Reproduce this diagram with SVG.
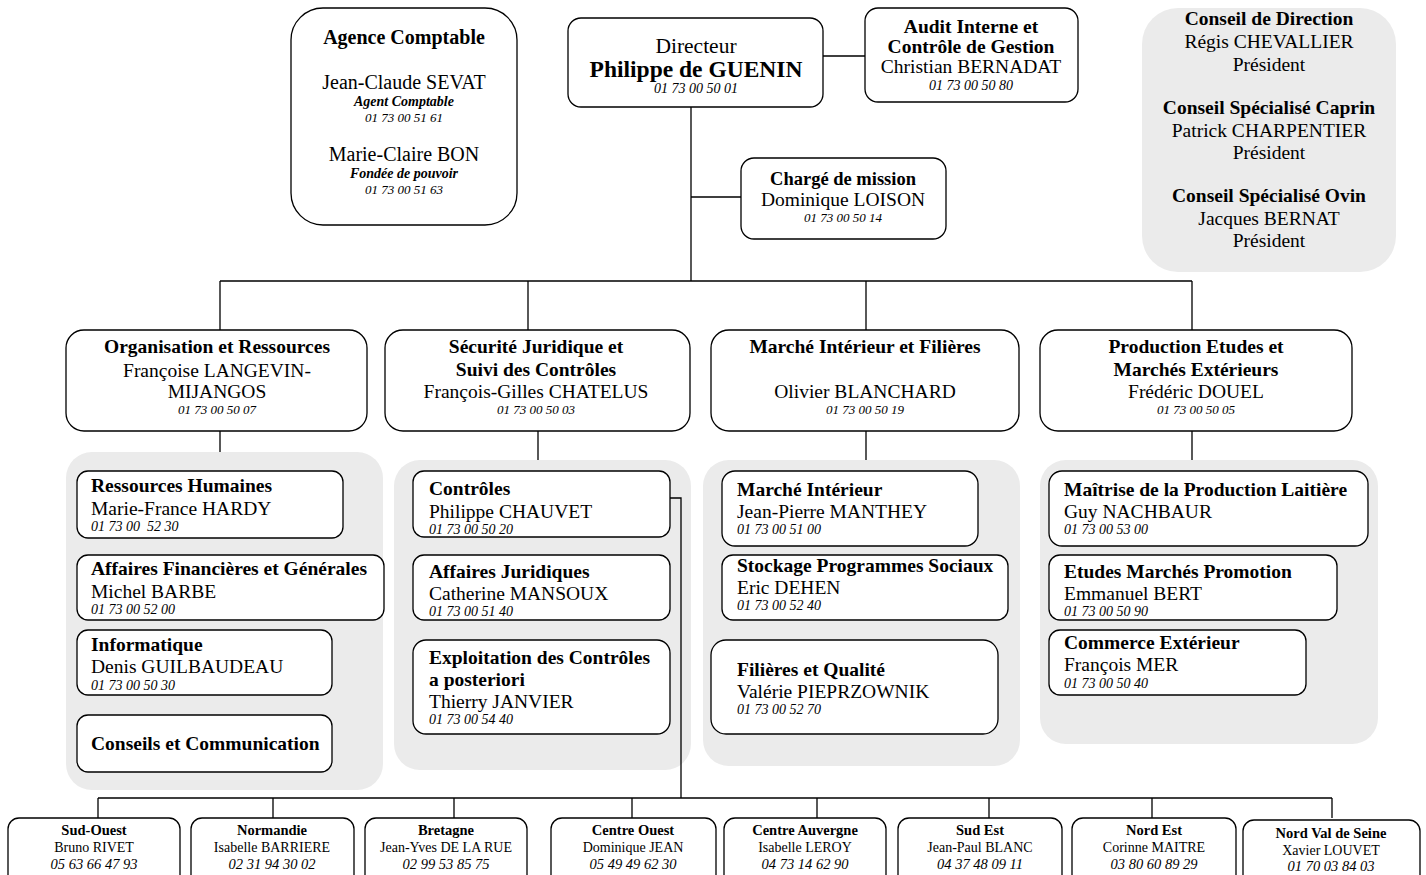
<svg xmlns="http://www.w3.org/2000/svg" width="1426" height="875" viewBox="0 0 1426 875">
<style>
text{font-family:"Liberation Serif","Times New Roman",serif;fill:#000}
.c{text-anchor:middle}
.b{font-weight:bold}
.t{font-size:19.5px}
.n{font-size:19.5px}
.p{font-size:13px;font-style:italic}
.sp{font-size:14px;font-style:italic}
.bi{font-size:14px;font-weight:bold;font-style:italic}
.box{fill:#fff;stroke:#000;stroke-width:1.3}
.grp{fill:#ebebeb;stroke:none}
.ln{stroke:#000;stroke-width:1.3;fill:none}
.bt{font-size:14.5px;font-weight:bold}
.bn{font-size:14px}
.bp{font-size:14.5px;font-style:italic}
</style>
<rect width="1426" height="875" fill="#fff"/>
<g id="panels">
<rect class="grp" x="66" y="452" width="317" height="338" rx="26"/>
<rect class="grp" x="394" y="460" width="297" height="310" rx="26"/>
<rect class="grp" x="703" y="460" width="317" height="306" rx="26"/>
<rect class="grp" x="1040" y="460" width="338" height="284" rx="26"/>
</g>
<g id="connectors">
<path class="ln" d="M691 107V281M691 197H741M823 56H865M220 281H1192M220 281V330M528 281V330M866 281V330M1192 281V330M220 431V452M538 430V460M866 430V460M1192 430V460M670 498H681V798M98 798H1332M98 798V818M273 798V818M454 798V818M632 798V818M817 798V818M989 798V818M1152 798V818M1332 798V818"/>
</g>
<g id="agence">
<rect class="box" x="291" y="8" width="226" height="217" rx="32"/>
<text class="c b" x="404" y="44" font-size="20">Agence Comptable</text>
<text class="c" x="404" y="89" font-size="20">Jean-Claude SEVAT</text>
<text class="c bi" x="404" y="106">Agent Comptable</text>
<text class="c" x="404" y="122" font-size="13" font-style="italic">01 73 00 51 61</text>
<text class="c" x="404" y="161" font-size="20">Marie-Claire BON</text>
<text class="c bi" x="404" y="178">Fondée de pouvoir</text>
<text class="c" x="404" y="194" font-size="13" font-style="italic">01 73 00 51 63</text>
</g>
<g id="directeur">
<rect class="box" x="568" y="18" width="255" height="89" rx="13"/>
<text class="c" x="696" y="53" font-size="21.5">Directeur</text>
<text class="c b" x="696" y="77" font-size="23.5">Philippe de GUENIN</text>
<text class="c sp" x="696" y="93">01 73 00 50 01</text>
</g>
<g id="audit">
<rect class="box" x="865" y="8" width="213" height="94" rx="13"/>
<text class="c b t" x="971" y="33">Audit Interne et</text>
<text class="c b t" x="971" y="53">Contrôle de Gestion</text>
<text class="c n" x="971" y="73">Christian BERNADAT</text>
<text class="c sp" x="971" y="90">01 73 00 50 80</text>
</g>
<g id="conseil">
<rect class="grp" x="1142" y="8" width="254" height="264" rx="36"/>
<text class="c b t" x="1269" y="25">Conseil de Direction</text>
<text class="c n" x="1269" y="48">Régis CHEVALLIER</text>
<text class="c n" x="1269" y="71">Président</text>
<text class="c b t" x="1269" y="114">Conseil Spécialisé Caprin</text>
<text class="c n" x="1269" y="137">Patrick CHARPENTIER</text>
<text class="c n" x="1269" y="159">Président</text>
<text class="c b t" x="1269" y="202">Conseil Spécialisé Ovin</text>
<text class="c n" x="1269" y="225">Jacques BERNAT</text>
<text class="c n" x="1269" y="247">Président</text>
</g>
<g id="charge">
<rect class="box" x="741" y="158" width="205" height="81" rx="13"/>
<text class="c b" x="843" y="185" font-size="18.5">Chargé de mission</text>
<text class="c n" x="843" y="206">Dominique LOISON</text>
<text class="c p" x="843" y="222">01 73 00 50 14</text>
</g>
<g id="dept-org">
<rect class="box" x="66" y="330" width="301" height="101" rx="18"/>
<text class="c b t" x="217" y="353">Organisation et Ressources</text>
<text class="c n" x="217" y="377">Françoise LANGEVIN-</text>
<text class="c n" x="217" y="398">MIJANGOS</text>
<text class="c p" x="217" y="414">01 73 00 50 07</text>
</g>
<g id="dept-sec">
<rect class="box" x="385" y="330" width="305" height="101" rx="18"/>
<text class="c b t" x="536" y="353">Sécurité Juridique et</text>
<text class="c b t" x="536" y="376">Suivi des Contrôles</text>
<text class="c n" x="536" y="398">François-Gilles CHATELUS</text>
<text class="c p" x="536" y="414">01 73 00 50 03</text>
</g>
<g id="dept-marche">
<rect class="box" x="711" y="330" width="308" height="101" rx="18"/>
<text class="c b t" x="865" y="353">Marché Intérieur et Filières</text>
<text class="c n" x="865" y="398">Olivier BLANCHARD</text>
<text class="c p" x="865" y="414">01 73 00 50 19</text>
</g>
<g id="dept-prod">
<rect class="box" x="1040" y="330" width="312" height="101" rx="18"/>
<text class="c b t" x="1196" y="353">Production Etudes et</text>
<text class="c b t" x="1196" y="376">Marchés Extérieurs</text>
<text class="c n" x="1196" y="398">Frédéric DOUEL</text>
<text class="c p" x="1196" y="414">01 73 00 50 05</text>
</g>
<g id="rh">
<rect class="box" x="77" y="471" width="266" height="67" rx="11"/>
<text class="b t" x="91" y="492">Ressources Humaines</text>
<text class="n" x="91" y="515">Marie-France HARDY</text>
<text class="sp" x="91" y="531">01 73 00&#160; 52 30</text>
</g>
<g id="afg">
<rect class="box" x="77" y="555" width="307" height="65" rx="11"/>
<text class="b t" x="91" y="575">Affaires Financières et Générales</text>
<text class="n" x="91" y="598">Michel BARBE</text>
<text class="sp" x="91" y="614">01 73 00 52 00</text>
</g>
<g id="info">
<rect class="box" x="77" y="630" width="255" height="65" rx="11"/>
<text class="b t" x="91" y="651">Informatique</text>
<text class="n" x="91" y="673">Denis GUILBAUDEAU</text>
<text class="sp" x="91" y="690">01 73 00 50 30</text>
</g>
<g id="conseils">
<rect class="box" x="77" y="715" width="255" height="57" rx="11"/>
<text class="b t" x="91" y="750">Conseils et Communication</text>
</g>
<g id="controles">
<rect class="box" x="413" y="471" width="257" height="66" rx="11"/>
<text class="b t" x="429" y="495">Contrôles</text>
<text class="n" x="429" y="518">Philippe CHAUVET</text>
<text class="sp" x="429" y="534">01 73 00 50 20</text>
</g>
<g id="juridiques">
<rect class="box" x="413" y="555" width="257" height="65" rx="11"/>
<text class="b t" x="429" y="578">Affaires Juridiques</text>
<text class="n" x="429" y="600">Catherine MANSOUX</text>
<text class="sp" x="429" y="616">01 73 00 51 40</text>
</g>
<g id="exploitation">
<rect class="box" x="413" y="640" width="257" height="94" rx="13"/>
<text class="b t" x="429" y="664">Exploitation des Contrôles</text>
<text class="b t" x="429" y="686">a posteriori</text>
<text class="n" x="429" y="708">Thierry JANVIER</text>
<text class="sp" x="429" y="724">01 73 00 54 40</text>
</g>
<g id="mi">
<rect class="box" x="722" y="471" width="256" height="75" rx="13"/>
<text class="b t" x="737" y="496">Marché Intérieur</text>
<text class="n" x="737" y="518">Jean-Pierre MANTHEY</text>
<text class="sp" x="737" y="534">01 73 00 51 00</text>
</g>
<g id="stockage">
<rect class="box" x="722" y="555" width="286" height="65" rx="11"/>
<text class="b t" x="737" y="572">Stockage Programmes Sociaux</text>
<text class="n" x="737" y="594">Eric DEHEN</text>
<text class="sp" x="737" y="610">01 73 00 52 40</text>
</g>
<g id="filieres">
<rect class="box" x="711" y="640" width="287" height="94" rx="15"/>
<text class="b t" x="737" y="676">Filières et Qualité</text>
<text class="n" x="737" y="698">Valérie PIEPRZOWNIK</text>
<text class="sp" x="737" y="714">01 73 00 52 70</text>
</g>
<g id="mpl">
<rect class="box" x="1049" y="471" width="319" height="75" rx="13"/>
<text class="b t" x="1064" y="496">Maîtrise de la Production Laitière</text>
<text class="n" x="1064" y="518">Guy NACHBAUR</text>
<text class="sp" x="1064" y="534">01 73 00 53 00</text>
</g>
<g id="emp">
<rect class="box" x="1049" y="555" width="288" height="65" rx="11"/>
<text class="b t" x="1064" y="578">Etudes Marchés Promotion</text>
<text class="n" x="1064" y="600">Emmanuel BERT</text>
<text class="sp" x="1064" y="616">01 73 00 50 90</text>
</g>
<g id="ce">
<rect class="box" x="1049" y="630" width="257" height="65" rx="11"/>
<text class="b t" x="1064" y="649">Commerce Extérieur</text>
<text class="n" x="1064" y="671">François MER</text>
<text class="sp" x="1064" y="688">01 73 00 50 40</text>
</g>
<g id="r-sudouest">
<rect class="box" x="8" y="818" width="172" height="70" rx="11"/>
<text class="c bt" x="94" y="835">Sud-Ouest</text>
<text class="c bn" x="94" y="852">Bruno RIVET</text>
<text class="c bp" x="94" y="869">05 63 66 47 93</text>
</g>
<g id="r-normandie">
<rect class="box" x="191" y="818" width="163" height="70" rx="11"/>
<text class="c bt" x="272" y="835">Normandie</text>
<text class="c bn" x="272" y="852">Isabelle BARRIERE</text>
<text class="c bp" x="272" y="869">02 31 94 30 02</text>
</g>
<g id="r-bretagne">
<rect class="box" x="365" y="818" width="162" height="70" rx="11"/>
<text class="c bt" x="446" y="835">Bretagne</text>
<text class="c bn" x="446" y="852">Jean-Yves DE LA RUE</text>
<text class="c bp" x="446" y="869">02 99 53 85 75</text>
</g>
<g id="r-centreouest">
<rect class="box" x="551" y="818" width="165" height="70" rx="11"/>
<text class="c bt" x="633" y="835">Centre Ouest</text>
<text class="c bn" x="633" y="852">Dominique JEAN</text>
<text class="c bp" x="633" y="869">05 49 49 62 30</text>
</g>
<g id="r-centreauvergne">
<rect class="box" x="724" y="818" width="162" height="70" rx="11"/>
<text class="c bt" x="805" y="835">Centre Auvergne</text>
<text class="c bn" x="805" y="852">Isabelle LEROY</text>
<text class="c bp" x="805" y="869">04 73 14 62 90</text>
</g>
<g id="r-sudest">
<rect class="box" x="898" y="818" width="164" height="70" rx="11"/>
<text class="c bt" x="980" y="835">Sud Est</text>
<text class="c bn" x="980" y="852">Jean-Paul BLANC</text>
<text class="c bp" x="980" y="869">04 37 48 09 11</text>
</g>
<g id="r-nordest">
<rect class="box" x="1072" y="818" width="164" height="70" rx="11"/>
<text class="c bt" x="1154" y="835">Nord Est</text>
<text class="c bn" x="1154" y="852">Corinne MAITRE</text>
<text class="c bp" x="1154" y="869">03 80 60 89 29</text>
</g>
<g id="r-nordvaldeseine">
<rect class="box" x="1243" y="820" width="177" height="70" rx="11"/>
<text class="c bt" x="1331" y="838">Nord Val de Seine</text>
<text class="c bn" x="1331" y="855">Xavier LOUVET</text>
<text class="c bp" x="1331" y="871">01 70 03 84 03</text>
</g>
</svg>
